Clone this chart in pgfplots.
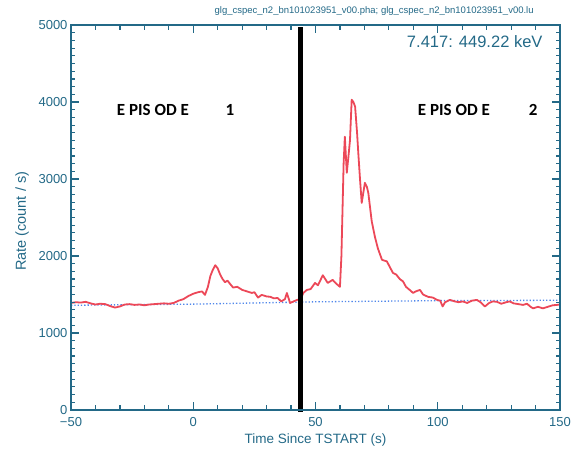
\documentclass[border=0pt]{standalone}
\usepackage{pgfplots}
\pgfplotsset{compat=1.18}
\usepackage{fontspec}
\setmainfont{Liberation Sans}
\newfontfamily\epfont{Carlito}
\definecolor{axc}{RGB}{35,105,135}
\definecolor{burst}{RGB}{236,72,88}
\definecolor{bkg}{RGB}{80,135,235}

\begin{document}
\begin{tikzpicture}
\begin{axis}[
    at={(71pt,40pt)}, anchor=south west,
    scale only axis, width=489pt, height=385pt,
    xmin=-50, xmax=150, ymin=0, ymax=5000,
    axis on top,
    axis line style={draw=axc, line width=1.2pt},
    xtick={-50,0,50,100,150},
    xticklabels={−50,0,50,100,150},
    minor xtick={-40,-30,-20,-10,10,20,30,40,60,70,80,90,110,120,130,140},
    ytick={0,1000,2000,3000,4000,5000},
    yticklabels={0,1000,2000,3000,4000,5000},
    minor ytick={100,200,...,4900},
    xtick pos=both, ytick pos=both,
    xtick align=inside, ytick align=inside,
    major tick length=8pt, minor tick length=4.5pt,
    every major tick/.append style={draw=axc, line width=1.3pt},
    every minor tick/.append style={draw=axc, line width=1.2pt},
    ticklabel style={font=\fontsize{13}{13}\selectfont, text=axc},
    xticklabel style={yshift=-4pt},
    xlabel={Time Since TSTART (s)},
    ylabel={Rate (count / s)},
    x label style={at={(axis description cs:0.5,0)}, anchor=center, yshift=-30pt,
        font=\fontsize{13.5}{14}\selectfont, text=axc},
    y label style={at={([xshift=-49pt]axis description cs:0,0.49)}, anchor=center,
        font=\fontsize{14.5}{15}\selectfont, text=axc},
    clip=false,
]
% background model
\addplot[bkg, dotted, line width=1.3pt] coordinates {
    (-50,1360) (0,1375) (50,1405) (100,1420) (150,1425)
};
% light curve
\addplot[burst, line width=1.8pt, line join=round] coordinates {
    (-50,1390) (-48,1400) (-46,1395) (-44,1405) (-42,1385) (-40,1370)
    (-38,1380) (-36,1375) (-34,1350) (-32,1330) (-30,1345) (-28,1370)
    (-26,1375) (-24,1365) (-22,1370) (-20,1360) (-18,1370) (-16,1375)
    (-14,1380) (-12,1385) (-10,1380) (-8,1390) (-6,1420) (-4,1440)
    (-2,1480) (0,1510) (2,1530) (3.6,1540) (4.8,1495) (6,1600)
    (7,1740) (8,1820) (9,1880) (10,1840) (11,1760) (12,1700)
    (13,1660) (14,1680) (15,1640) (16.3,1590) (18,1600) (20,1560)
    (22,1540) (24,1520) (25,1530) (26.5,1460) (28,1495) (30,1475)
    (31.5,1470) (33,1450) (34.5,1455) (36,1410) (37.5,1440) (38.3,1520)
    (39.6,1390) (41,1410) (42.5,1430) (44,1440) (45,1520) (46.5,1560)
    (48,1570) (49.8,1650) (51,1620) (53,1750) (54,1700) (55,1650)
    (57,1690) (58.5,1640) (60,1600) (60.6,2000) (61.5,3200) (62,3550)
    (62.8,3080) (63.5,3300) (64.1,3500) (64.8,4030) (65.5,4000) (66.2,3940)
    (67,3600) (67.5,3340) (68.2,3000) (68.9,2690) (70.2,2950) (71,2900)
    (71.6,2820) (73,2450) (74.3,2250) (75.5,2100) (77.2,1950) (79.2,1930)
    (80.5,1850) (81.7,1780) (83,1760) (84.5,1700) (85.8,1670) (87,1600)
    (88.5,1560) (89.9,1520) (91,1540) (92.7,1560) (94,1500) (96,1470)
    (98,1460) (99.7,1430) (101,1420) (102,1345) (103,1400) (105,1430)
    (107,1410) (108.5,1400) (110.3,1410) (112,1390) (114,1420) (116,1430)
    (117.5,1400) (119.3,1345) (121,1390) (122.5,1410) (124.2,1405) (126,1380)
    (128,1400) (129.5,1410) (131,1385) (133,1375) (134.9,1365) (136.5,1380)
    (138,1340) (139,1320) (141,1340) (143,1320) (145,1340) (147,1360)
    (148.8,1365) (150,1370)
};
% episode separator
\addplot[black, line width=5pt] coordinates {(43.7,-25) (43.7,4975)};

\node[font=\epfont\bfseries\fontsize{17}{17}\selectfont] at (axis cs:-16.5,3897) {E PIS OD E};
\node[font=\epfont\bfseries\fontsize{17}{17}\selectfont] at (axis cs:15,3897) {1};
\node[font=\epfont\bfseries\fontsize{17}{17}\selectfont] at (axis cs:106.6,3897) {E PIS OD E};
\node[font=\epfont\bfseries\fontsize{17}{17}\selectfont] at (axis cs:139,3897) {2};

\node[anchor=east, font=\fontsize{16.5}{17}\selectfont, text=axc]
    at (axis description cs:1,1) [xshift=-14pt, yshift=-17pt] {7.417: 449.22 keV};
\node[anchor=center, font=\fontsize{9.5}{10}\selectfont, text=axc]
    at (axis description cs:0.62,1) [yshift=14pt]
    {glg\_cspec\_n2\_bn101023951\_v00.pha; glg\_cspec\_n2\_bn101023951\_v00.lu};
\end{axis}
\pgfresetboundingbox
\path[use as bounding box] (0pt,0pt) rectangle (571pt,450pt);
\end{tikzpicture}
\end{document}
